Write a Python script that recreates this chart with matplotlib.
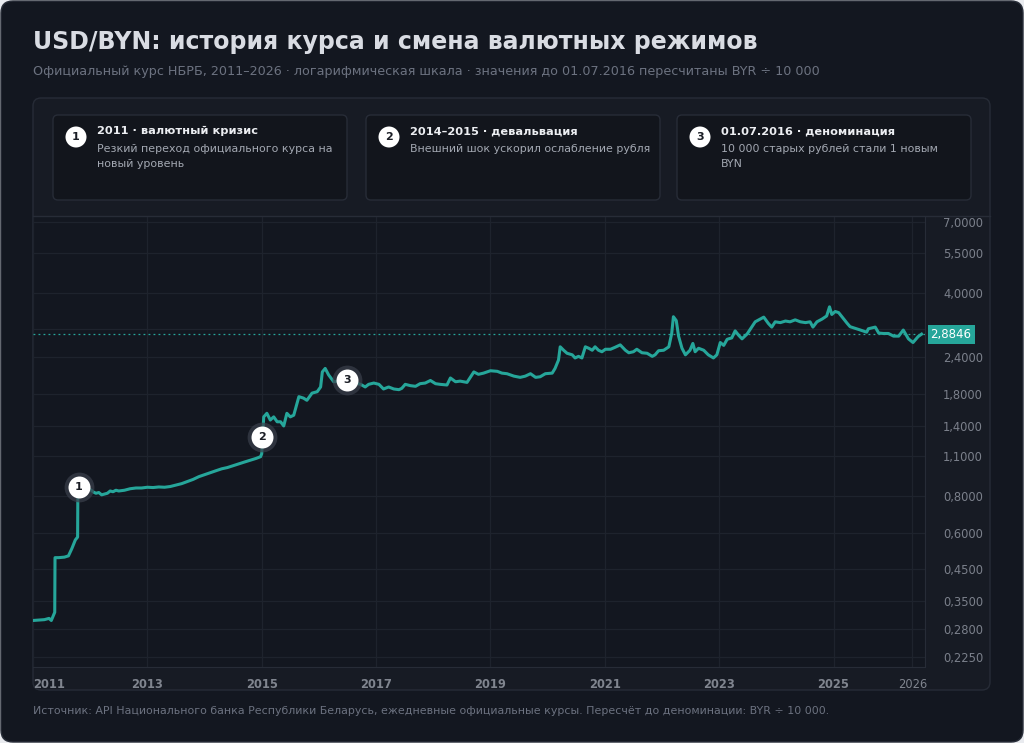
import matplotlib
matplotlib.use("Agg")
import matplotlib.pyplot as plt
import matplotlib.transforms as mtransforms
from matplotlib.patches import FancyBboxPatch, Circle
from matplotlib.lines import Line2D

# --- data: official USD/BYN rate (pre-2016-07-01 values are BYR / 10 000) ---
year = [2011.00, 2011.10, 2011.20, 2011.28, 2011.32, 2011.35, 2011.38, 2011.385,
        2011.45, 2011.55, 2011.62, 2011.68, 2011.74, 2011.78, 2011.785,
        2011.85, 2011.90, 2011.95, 2012.00, 2012.05, 2012.10, 2012.15, 2012.20,
        2012.25, 2012.30, 2012.35, 2012.40, 2012.45, 2012.50, 2012.60, 2012.70,
        2012.80, 2012.90, 2013.00, 2013.10, 2013.20, 2013.30, 2013.40, 2013.50,
        2013.60, 2013.70, 2013.80, 2013.90, 2014.00, 2014.10, 2014.20, 2014.30,
        2014.40, 2014.50, 2014.60, 2014.70, 2014.80, 2014.90, 2014.98, 2015.00,
        2015.035, 2015.09, 2015.15, 2015.21, 2015.27, 2015.33, 2015.385, 2015.44,
        2015.50, 2015.56, 2015.65, 2015.73, 2015.79, 2015.88, 2015.97, 2016.03,
        2016.06, 2016.11, 2016.17, 2016.26, 2016.40, 2016.50, 2016.60, 2016.73,
        2016.81, 2016.87, 2016.96, 2017.05, 2017.13, 2017.22, 2017.31, 2017.40,
        2017.45, 2017.51, 2017.60, 2017.69, 2017.77, 2017.86, 2017.95, 2018.04,
        2018.12, 2018.24, 2018.30, 2018.39, 2018.47, 2018.59, 2018.71, 2018.79,
        2018.88, 2019.00, 2019.12, 2019.20, 2019.29, 2019.41, 2019.52, 2019.61,
        2019.70, 2019.79, 2019.87, 2019.96, 2020.08, 2020.13, 2020.19, 2020.22,
        2020.28, 2020.34, 2020.43, 2020.48, 2020.54, 2020.60, 2020.66, 2020.72,
        2020.78, 2020.83, 2020.89, 2020.95, 2021.01, 2021.10, 2021.18, 2021.27,
        2021.36, 2021.42, 2021.50, 2021.56, 2021.65, 2021.74, 2021.83, 2021.88,
        2021.94, 2022.03, 2022.12, 2022.17, 2022.20, 2022.25, 2022.29, 2022.35,
        2022.41, 2022.49, 2022.54, 2022.58, 2022.64, 2022.73, 2022.81, 2022.90,
        2022.96, 2023.02, 2023.08, 2023.14, 2023.22, 2023.28, 2023.34, 2023.40,
        2023.49, 2023.63, 2023.72, 2023.78, 2023.86, 2023.92, 2023.98, 2024.07,
        2024.16, 2024.24, 2024.33, 2024.42, 2024.51, 2024.59, 2024.64, 2024.71,
        2024.80, 2024.88, 2024.93, 2024.97, 2025.03, 2025.09, 2025.18, 2025.24,
        2025.29, 2025.38, 2025.47, 2025.58, 2025.61, 2025.73, 2025.79, 2025.87,
        2025.96, 2026.05, 2026.14, 2026.22, 2026.31, 2026.39, 2026.48, 2026.54]
rate = [0.300, 0.301, 0.302, 0.305, 0.300, 0.310, 0.320, 0.493,
        0.493, 0.495, 0.500, 0.530, 0.567, 0.580, 0.864,
        0.850, 0.855, 0.840, 0.845, 0.830, 0.820, 0.825, 0.810,
        0.815, 0.820, 0.835, 0.830, 0.840, 0.835, 0.840, 0.850,
        0.855, 0.855, 0.860, 0.858, 0.862, 0.860, 0.865, 0.875,
        0.885, 0.900, 0.915, 0.935, 0.950, 0.965, 0.980, 0.995,
        1.005, 1.020, 1.035, 1.050, 1.065, 1.080, 1.095, 1.120,
        1.500, 1.543, 1.463, 1.500, 1.443, 1.443, 1.396, 1.543,
        1.500, 1.520, 1.760, 1.740, 1.710, 1.810, 1.830, 1.900,
        2.140, 2.200, 2.090, 1.980, 1.990, 2.000, 1.970, 1.940,
        1.900, 1.940, 1.960, 1.940, 1.870, 1.900, 1.870, 1.860,
        1.880, 1.940, 1.920, 1.910, 1.950, 1.960, 2.000, 1.950,
        1.940, 1.930, 2.040, 1.980, 1.990, 1.970, 2.140, 2.100,
        2.120, 2.160, 2.150, 2.120, 2.110, 2.070, 2.050, 2.070,
        2.110, 2.050, 2.060, 2.110, 2.120, 2.200, 2.350, 2.610,
        2.540, 2.480, 2.450, 2.390, 2.420, 2.390, 2.610, 2.580,
        2.540, 2.610, 2.540, 2.510, 2.560, 2.560, 2.600, 2.650,
        2.540, 2.490, 2.510, 2.560, 2.490, 2.480, 2.420, 2.450,
        2.530, 2.540, 2.610, 2.900, 3.310, 3.210, 2.840, 2.580,
        2.450, 2.540, 2.680, 2.510, 2.580, 2.540, 2.450, 2.390,
        2.450, 2.700, 2.640, 2.770, 2.800, 2.960, 2.860, 2.780,
        2.890, 3.180, 3.250, 3.300, 3.140, 3.050, 3.180, 3.160,
        3.200, 3.180, 3.230, 3.180, 3.160, 3.180, 3.050, 3.180,
        3.250, 3.330, 3.580, 3.370, 3.450, 3.420, 3.250, 3.140,
        3.060, 3.020, 2.980, 2.930, 3.010, 3.050, 2.910, 2.900,
        2.900, 2.840, 2.840, 2.980, 2.780, 2.700, 2.830, 2.8846]

last_rate = 2.8846
y_ticks = [0.225, 0.28, 0.35, 0.45, 0.6, 0.8, 1.1, 1.4, 1.8, 2.4, 3.0, 4.0, 5.5, 7.0]
x_ticks = [2011, 2013, 2015, 2017, 2019, 2021, 2023, 2025]
marker_year = [2011.80, 2015.00, 2016.50]
marker_rate = [0.864, 1.28, 2.00]
marker_label = ["1", "2", "3"]
card_titles = ["2011 · валютный кризис", "2014–2015 · девальвация", "01.07.2016 · деноминация"]
card_texts = ["Резкий переход официального курса на\nновый уровень",
              "Внешний шок ускорил ослабление рубля",
              "10 000 старых рублей стали 1 новым\nBYN"]

W, H = 1024, 743
BG = "#131720"
PANEL = "#171b24"
CARD = "#12151c"
BORDER = "#272c37"
GRID = "#1e232d"
TEAL = "#26a69a"

fig = plt.figure(figsize=(W / 100, H / 100), dpi=100)
fig.patch.set_facecolor("#e9ebef")
ident = mtransforms.IdentityTransform()


def px(x, y):
    return x, H - y


def rbox(x0, y0, x1, y1, fc, ec, r):
    p = FancyBboxPatch(px(x0, y1), x1 - x0, y1 - y0,
                       boxstyle=f"round,pad=0,rounding_size={r}",
                       fc=fc, ec=ec, lw=1, transform=ident, zorder=0)
    fig.patches.append(p)


def ftext(x, y, s, **kw):
    fig.text(*px(x, y), s, transform=ident, **kw)


# outer card and chart panel
rbox(1, 1, W - 1, H - 1, BG, "#2a2f3a", 12)
rbox(33, 98, 990, 690, PANEL, BORDER, 8)

ftext(33, 42, "USD/BYN: история курса и смена валютных режимов",
      fontsize=17, fontweight="bold", color="#d9dce3", va="center")
ftext(33, 72, "Официальный курс НБРБ, 2011–2026 · логарифмическая шкала · "
      "значения до 01.07.2016 пересчитаны BYR ÷ 10 000",
      fontsize=9.2, color="#6c7280", va="center")
ftext(33, 711, "Источник: API Национального банка Республики Беларусь, ежедневные "
      "официальные курсы. Пересчёт до деноминации: BYR ÷ 10 000.",
      fontsize=7.9, color="#6c7280", va="center")

# event cards
card_x = [53, 366, 677]
for i in range(3):
    x0 = card_x[i]
    rbox(x0, 115, x0 + 294, 200, CARD, BORDER, 5)
    fig.patches.append(Circle(px(x0 + 23, 137), 10.5, fc="white", ec="none", transform=ident))
    ftext(x0 + 23, 137.5, marker_label[i], fontsize=8, fontweight="bold",
          color="#1a1d25", ha="center", va="center")
    ftext(x0 + 44, 131, card_titles[i], fontsize=8.2, fontweight="bold",
          color="#eceef2", va="center")
    ftext(x0 + 44, 143.5, card_texts[i], fontsize=7.9, color="#a3a8b2", va="top",
          linespacing=1.7)

# chart
ax = fig.add_axes([33 / W, 1 - 667 / H, 892 / W, 451 / H])
ax.set_zorder(3)
ax.set_facecolor(BG)
ax.set_yscale("log")
ax.set_xlim(2011.0, 2026.60)
ax.set_ylim(0.2077, 7.34)

ax.plot(year, rate, color=TEAL, lw=2.2, zorder=3, solid_joinstyle="round")
ax.axhline(last_rate, color=TEAL, lw=0.9, ls=(0, (1.5, 2.5)), zorder=2)

ax.scatter(marker_year, marker_rate, s=460, color="#3a3f4b", alpha=0.7, zorder=4, lw=0)
ax.scatter(marker_year, marker_rate, s=250, color="white", zorder=5, lw=0)
for xm, ym, lb in zip(marker_year, marker_rate, marker_label):
    ax.text(xm, ym, lb, ha="center", va="center", fontsize=8, fontweight="bold",
            color="#1a1d25", zorder=6)

ax.yaxis.tick_right()
ax.set_yticks(y_ticks)
# the 3,0000 label sits under the last-price tag, so leave it blank
ax.set_yticklabels(["" if v == 3.0 else f"{v:.4f}".replace(".", ",") for v in y_ticks])
ax.minorticks_off()
ax.set_xticks(x_ticks + [2026.38])
ax.set_xticklabels([str(v) for v in x_ticks] + ["2026"])
for lb in ax.get_xticklabels()[:-1]:
    lb.set_fontweight("bold")
ax.get_xticklabels()[0].set_horizontalalignment("left")
ax.tick_params(axis="y", length=0, pad=13, labelsize=8.3, labelcolor="#7b808b")
ax.tick_params(axis="x", length=0, pad=8, labelsize=8.3, labelcolor="#80858f")
ax.grid(True, color=GRID, lw=0.9)
for s in ["top", "left"]:
    ax.spines[s].set_visible(False)
for s in ["bottom", "right"]:
    ax.spines[s].set_color(BORDER)

ax.annotate(f"{last_rate:.4f}".replace(".", ","), xy=(1.0, last_rate),
            xycoords=("axes fraction", "data"), xytext=(4, 0), textcoords="offset points",
            ha="left", va="center", fontsize=8.5, color="white", annotation_clip=False,
            bbox=dict(boxstyle="square,pad=0.25", fc=TEAL, ec="none"), zorder=7)

# separator between header and chart
fig.add_artist(Line2D([33, 990], [H - 216, H - 216], transform=ident, color=BORDER,
                      lw=1, zorder=5))

fig.savefig("out.png", dpi=100, facecolor=fig.get_facecolor())
